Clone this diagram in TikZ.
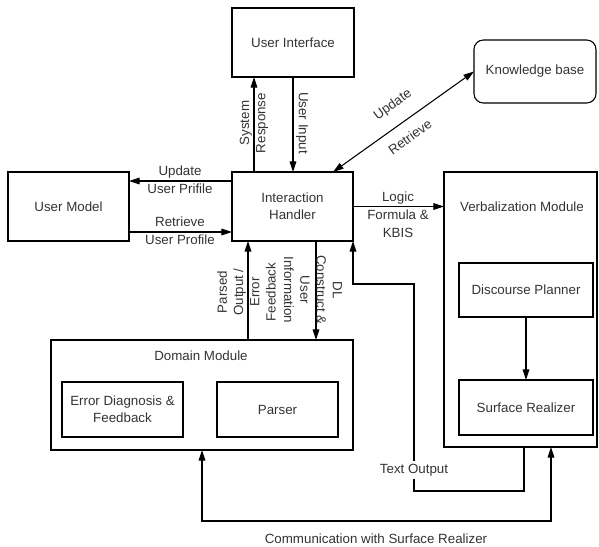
\documentclass[tikz,border=0pt]{standalone}
\usepackage{fontspec}
\setmainfont{Liberation Sans}
\usetikzlibrary{arrows.meta,calc}
\begin{document}
\begin{tikzpicture}[x=0.75pt,y=-0.75pt,
  box/.style={draw, line width=0.8pt, inner sep=0pt, outer sep=0pt, align=center, font=\fontsize{10}{13}\selectfont, text=black!80},
  lbl/.style={inner sep=0pt, align=center, font=\fontsize{10}{13.5}\selectfont, text=black!80},
  vlbl/.style={inner sep=0pt, align=center, font=\fontsize{10}{12.2}\selectfont, text=black!80},
  conn/.style={line width=0.8pt, -{Triangle[length=8pt,width=5pt]}},
  conn2/.style={line width=0.8pt, {Triangle[length=8pt,width=5pt]}-{Triangle[length=8pt,width=5pt]}}]
\useasboundingbox (0,0) rectangle (599,546);

% boxes
\node[box, minimum width=91.5pt, minimum height=51.75pt] (UI) at (293,42.5) {User Interface};
\node[box, minimum width=90.75pt, minimum height=51.75pt] (IH) at (292.5,206.5) {Interaction\\Handler};
\node[box, minimum width=90.75pt, minimum height=51.75pt] (UM) at (68.5,206.5) {User Model};
\node[box, rounded corners=7pt, minimum width=91.5pt, minimum height=47.25pt] (KB) at (535,71.5) {Knowledge base};
\node[box, minimum width=114.75pt, minimum height=206.25pt] (VM) at (520.5,309.5) {};
\node[lbl] (VMt) at (522,207) {Verbalization Module};
\node[box, minimum width=100.5pt, minimum height=40.5pt] (DP) at (526,290) {Discourse Planner};
\node[box, minimum width=100.5pt, minimum height=41.25pt] (SR) at (526,407.5) {Surface Realizer};
\node[box, minimum width=226.5pt, minimum height=82.5pt] (DM) at (202,395) {};
\node[lbl] (DMt) at (201,356) {Domain Module};
\node[box, minimum width=90.75pt, minimum height=41.25pt] (ED) at (122.5,409.5) {Error Diagnosis \&\\Feedback};
\node[box, minimum width=90.75pt, minimum height=41.25pt] (PA) at (277.5,409.5) {Parser};

% helper coordinates
\coordinate (xsr) at (254,0);
\coordinate (xkb) at (333,0);
\coordinate (yup) at (0,181);
\coordinate (yret) at (0,232);
\coordinate (xpo) at (248,0);
\coordinate (xdl) at (316,0);
\coordinate (xto) at (524,0);
\coordinate (t2) at (414,491);
\coordinate (t3) at (414,284);
\coordinate (c2) at (551,521);

% connectors
\draw[conn] (IH.north -| xsr) -- (UI.south -| xsr);
\draw[conn] (UI.south) -- (IH.north -| UI.south);
\draw[conn2] (IH.north -| xkb) -- (KB.west);
\draw[conn] (IH.west |- yup) -- (UM.east |- yup);
\draw[conn] (UM.east |- yret) -- (IH.west |- yret);
\draw[conn] (IH.east) -- (VM.west |- IH.east);
\draw[conn] (DM.north -| xpo) -- (IH.south -| xpo);
\draw[conn] (IH.south -| xdl) -- (DM.north -| xdl);
\draw[conn] (VM.south -| xto) |- (t2) -- (t3) -| (IH.south east);
\draw[conn2] (DM.south) |- (c2) -- (VM.south -| c2);
\draw[conn] (DP.south) -- (SR.north);

% labels
\node[vlbl, rotate=90] (lsr) at (254,123) {System\\Response};
\node[vlbl, rotate=-90] (lui) at (302,123) {User Input};
\node[lbl, rotate=35.5] (lupd) at (393,105) {Update};
\node[lbl, rotate=35.5] (lret) at (410,137) {Retrieve};
\node[lbl] (lup) at (180,180) {Update\\User Prifile};
\node[lbl] (lrp) at (180,231) {Retrieve\\User Profile};
\node[lbl] (llf) at (398,215) {Logic\\Formula \&\\KBIS};
\node[vlbl, rotate=90] (lpo) at (246.5,292) {Parsed\\Output /\\Error\\Feedback};
\node[vlbl, rotate=-90] (ldl) at (313,290) {DL\\Construct \&\\User\\Information};
\node[lbl, fill=white, inner sep=2pt] (lto) at (414,470) {Text Output};
\node[lbl] (lcm) at (376,539) {Communication with Surface Realizer};
\end{tikzpicture}
\end{document}
